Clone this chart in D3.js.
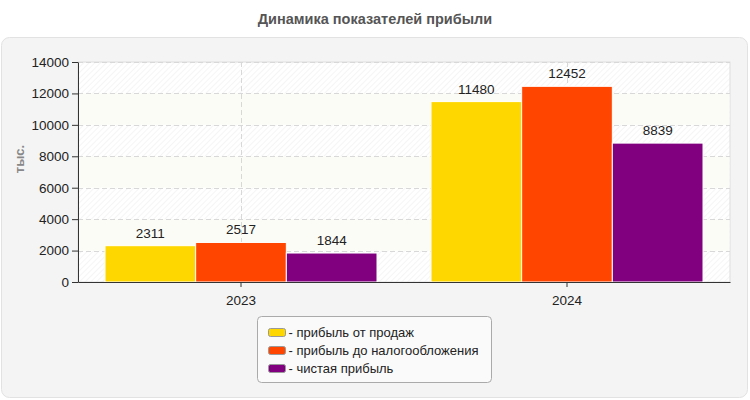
<!DOCTYPE html>
<html>
<head>
<meta charset="utf-8">
<script src="https://cdn.jsdelivr.net/npm/d3@7"></script>
<style>
  body { margin: 0; background: #fff; font-family: Arial, "Liberation Sans", sans-serif; }
</style>
</head>
<body>
<div id="chart"></div>
<script>
// DATA
const YEARS = ["2023", "2024"];
const SERIES = ["прибыль от продаж", "прибыль до налогообложения", "чистая прибыль"];
const COLORS = ["#FFD700", "#FF4500", "#800080"];
const SALES_PROFIT = [2311, 11480];
const PRETAX_PROFIT = [2517, 12452];
const NET_PROFIT = [1844, 8839];
const Y_TICKS = [0, 2000, 4000, 6000, 8000, 10000, 12000, 14000];

const VALUES = [SALES_PROFIT, PRETAX_PROFIT, NET_PROFIT];

// FRAME
const FRAME_WIDTH = 750;
const FRAME_HEIGHT = 400;
const MARGINS = {left: 78, right: 20, top: 62, bottom: 118};
const GRAPH_WIDTH = FRAME_WIDTH - MARGINS.left - MARGINS.right;
const GRAPH_HEIGHT = FRAME_HEIGHT - MARGINS.top - MARGINS.bottom;

const svg = d3.select("#chart")
  .append("svg")
    .attr("width", FRAME_WIDTH)
    .attr("height", FRAME_HEIGHT);

// hatch pattern for the plot background
const defs = svg.append("defs");
const pat = defs.append("pattern")
    .attr("id", "hatch")
    .attr("patternUnits", "userSpaceOnUse")
    .attr("width", 4)
    .attr("height", 4)
    .attr("patternTransform", "rotate(45)");
pat.append("rect").attr("width", 4).attr("height", 4).attr("fill", "#ffffff");
pat.append("line")
    .attr("x1", 0).attr("y1", 0).attr("x2", 0).attr("y2", 4)
    .attr("stroke", "#efefef").attr("stroke-width", 1.2);

// title
svg.append("text")
    .attr("x", FRAME_WIDTH / 2)
    .attr("y", 24)
    .attr("text-anchor", "middle")
    .attr("font-size", "14.5px")
    .attr("font-weight", "bold")
    .attr("fill", "#555")
    .text("Динамика показателей прибыли");

// outer panel
svg.append("rect")
    .attr("x", 1.5).attr("y", 37.5)
    .attr("width", 746).attr("height", 360)
    .attr("rx", 8)
    .attr("fill", "#f4f4f4")
    .attr("stroke", "#e2e2e2");

const g = svg.append("g")
    .attr("transform", "translate(" + MARGINS.left + "," + MARGINS.top + ")");

// scales
const Y_SCALE = d3.scaleLinear()
    .domain([0, 14000])
    .range([GRAPH_HEIGHT, 0]);

const X_SCALE = d3.scaleBand()
    .domain(YEARS)
    .range([0, GRAPH_WIDTH]);

const X_INNER = d3.scaleBand()
    .domain(SERIES)
    .range([27, X_SCALE.bandwidth() - 27]);

// plot background bands
g.append("rect")
    .attr("width", GRAPH_WIDTH)
    .attr("height", GRAPH_HEIGHT)
    .attr("fill", "url(#hatch)")
    .attr("stroke", "#dddddd");

for (let i = 1; i < Y_TICKS.length - 1; i += 2) {
  g.append("rect")
      .attr("x", 0.5)
      .attr("y", Y_SCALE(Y_TICKS[i + 1]))
      .attr("width", GRAPH_WIDTH - 1)
      .attr("height", Y_SCALE(Y_TICKS[i]) - Y_SCALE(Y_TICKS[i + 1]))
      .attr("fill", "#fcfcf7");
}

// gridlines
g.selectAll(".hgrid")
    .data(Y_TICKS.slice(1))
    .enter()
    .append("line")
      .attr("x1", 0)
      .attr("x2", GRAPH_WIDTH)
      .attr("y1", (d) => Math.round(Y_SCALE(d)) + 0.5)
      .attr("y2", (d) => Math.round(Y_SCALE(d)) + 0.5)
      .attr("stroke", "#d8d8d8")
      .attr("stroke-dasharray", "5,3");

g.selectAll(".vgrid")
    .data(YEARS)
    .enter()
    .append("line")
      .attr("x1", (d) => Math.round(X_SCALE(d) + X_SCALE.bandwidth() / 2) + 0.5)
      .attr("x2", (d) => Math.round(X_SCALE(d) + X_SCALE.bandwidth() / 2) + 0.5)
      .attr("y1", 0)
      .attr("y2", GRAPH_HEIGHT)
      .attr("stroke", "#d8d8d8")
      .attr("stroke-dasharray", "5,3");

// bars
const groups = g.selectAll(".year")
    .data(YEARS)
    .enter()
    .append("g")
      .attr("transform", (d) => "translate(" + X_SCALE(d) + ",0)");

groups.each(function(year, yi) {
  const grp = d3.select(this);
  SERIES.forEach((s, si) => {
    const v = VALUES[si][yi];
    grp.append("rect")
        .attr("x", X_INNER(s))
        .attr("y", Y_SCALE(v))
        .attr("width", X_INNER.bandwidth())
        .attr("height", GRAPH_HEIGHT - Y_SCALE(v))
        .attr("fill", COLORS[si])
        .attr("stroke", "#ffffff")
        .attr("stroke-width", 1);
    grp.append("text")
        .attr("x", X_INNER(s) + X_INNER.bandwidth() / 2)
        .attr("y", Y_SCALE(v) - 8)
        .attr("text-anchor", "middle")
        .attr("font-size", "13.5px")
        .attr("fill", "#222")
        .text(v);
  });
});

// axes
const yAxis = g.append("g")
    .call(d3.axisLeft(Y_SCALE).tickValues(Y_TICKS).tickFormat(d3.format("d"))
      .tickSize(6).tickSizeOuter(0));
yAxis.select(".domain").attr("stroke", "#333");
yAxis.selectAll(".tick line").attr("stroke", "#333");
yAxis.selectAll("text")
    .attr("font-size", "13.5px")
    .attr("font-family", "Arial, 'Liberation Sans', sans-serif")
    .attr("fill", "#222");

const xAxis = g.append("g")
    .attr("transform", "translate(0," + GRAPH_HEIGHT + ")")
    .call(d3.axisBottom(X_SCALE).tickSize(5).tickSizeOuter(0));
xAxis.select(".domain").attr("stroke", "#333");
xAxis.selectAll(".tick line").attr("stroke", "#333");
xAxis.selectAll("text")
    .attr("font-size", "13.5px")
    .attr("font-family", "Arial, 'Liberation Sans', sans-serif")
    .attr("fill", "#222")
    .attr("dy", "1.1em");

// y axis title
svg.append("text")
    .attr("transform", "translate(24," + (MARGINS.top + 97) + ") rotate(-90)")
    .attr("text-anchor", "middle")
    .attr("font-size", "13px")
    .attr("font-weight", "bold")
    .attr("fill", "#888")
    .text("тыс.");

// legend
const legend = svg.append("g")
    .attr("transform", "translate(257.5,316.5)");
legend.append("rect")
    .attr("width", 234)
    .attr("height", 66)
    .attr("rx", 4)
    .attr("fill", "#fafafa")
    .attr("stroke", "#aaaaaa");

SERIES.forEach((s, i) => {
  legend.append("rect")
      .attr("x", 11)
      .attr("y", 12 + i * 18)
      .attr("width", 17)
      .attr("height", 8)
      .attr("rx", 2)
      .attr("fill", COLORS[i])
      .attr("stroke", "#999");
  legend.append("text")
      .attr("x", 31)
      .attr("y", 20.5 + i * 18)
      .attr("font-size", "13px")
      .attr("fill", "#222")
      .text("- " + s);
});
</script>
</body>
</html>
